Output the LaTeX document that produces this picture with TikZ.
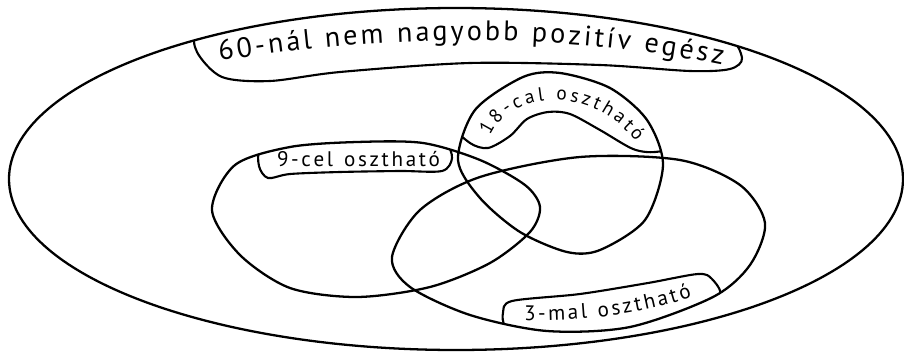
\documentclass[tikz,border=0pt]{standalone}
\usepackage{fontspec}
\newfontfamily\handfont{PT Sans}
\usetikzlibrary{decorations.text}

% outlines of the sets (px, y downwards)
\newcommand\outerset{(456,179) ellipse [x radius=447, y radius=171]}
\newcommand\nineset{plot[smooth cycle] coordinates {(212,210) (235,165) (290,147) (357,142) (423,143) (480,160) (525,185) (540,207) (530,232) (490,263) (430,287) (357,297) (290,288) (240,255)}}
\newcommand\eighteenset{plot[smooth cycle] coordinates {(458,160) (475,110) (523,77) (560,73) (610,88) (647,120) (663,165) (645,220) (600,250) (567,252) (520,232) (480,198)}}
\newcommand\threeset{plot[smooth cycle] coordinates {(392,257) (420,210) (480,177) (580,157) (680,160) (740,185) (765,223) (750,265) (713,297) (630,327) (547,331) (470,315) (410,287)}}

\tikzset{
  venn/.style={line width=1.3pt},
  tagline/.style={line width=1.2pt},
  tagtext/.style={decorate, decoration={text along path, text align={fit to path}}}
}

\begin{document}
\begin{tikzpicture}[x=0.02cm, y=-0.02cm]
  \useasboundingbox (0,0) rectangle (904,352);

  % Sets
  \draw[venn] \outerset;
  \draw[venn] \nineset;
  \draw[venn] \eighteenset;
  \draw[venn] \threeset;

  % Label tags (cut by their set)
  \begin{scope}
    \clip \outerset;
    \draw[tagline] plot[smooth cycle] coordinates {(197,52) (200,32) (260,15) (456,0) (650,15) (725,35) (742,58) (730,69) (690,71) (600,65) (470,63) (340,72) (270,81) (222,77)};
  \end{scope}
  \begin{scope}
    \clip \nineset;
    \draw[tagline] plot[smooth cycle] coordinates {(259,166) (262,148) (300,136) (357,132) (420,134) (445,142) (452,158) (442,171) (400,171) (340,172) (290,174) (268,178)};
  \end{scope}
  \begin{scope}
    \clip \eighteenset;
    \draw[tagline] plot[smooth cycle] coordinates {(455,125) (468,90) (523,66) (560,62) (615,76) (655,110) (670,145) (655,152) (633,149) (600,130) (570,114) (548,112) (527,119) (510,136) (488,148) (470,143)};
  \end{scope}
  \begin{scope}
    \clip \threeset;
    \draw[tagline] plot[smooth cycle] coordinates {(503,313) (512,301) (580,294) (648,283) (698,274) (712,279) (720,297) (690,322) (630,339) (570,344) (520,338) (505,326)};
  \end{scope}

  % Label texts
  \path[tagtext, decoration={text={|\handfont\fontsize{16}{18}\selectfont|60-nál nem nagyobb pozitív egész}}]
    (220,61) .. controls (380,34) and (560,32) .. (722,65);
  \path[tagtext, decoration={text={|\handfont\fontsize{12}{14}\selectfont|9-cel osztható}}]
    (277,166) -- (440,166);
  \path[tagtext, decoration={text={|\handfont\fontsize{11}{13}\selectfont|18-cal osztható}}]
    (490,136) .. controls (510,90) and (592,84) .. (636,142);
  \path[tagtext, decoration={text={|\handfont\fontsize{12}{14}\selectfont|3-mal osztható}}]
    (524,320) .. controls (590,322) and (650,312) .. (692,297);
\end{tikzpicture}
\end{document}
